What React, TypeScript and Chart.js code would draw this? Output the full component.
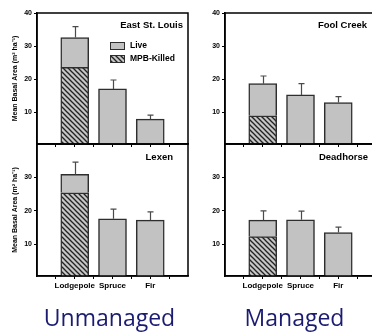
import React, { useEffect, useRef } from 'react';
import { Chart, registerables } from 'chart.js';

Chart.register(...registerables);

// ---------- data ----------
const categories = ['Lodgepole', 'Spruce', 'Fir'];
const categoryPositions = [1, 2, 3];
const xTickValues = [0.5, 1, 1.5, 2, 2.5, 3, 3.5];
const yTicksTop = [10, 20, 30, 40];
const yTicksBottom = [10, 20, 30];
const legendLabels = ['Live', 'MPB-Killed'];
const groupLabels = ['Unmanaged', 'Managed'];
const yAxisTitle = 'Mean Basal Area (m² ha⁻¹)';

const eastStLouisTotal = [32.6, 17.1, 8.0];
const eastStLouisKilled = [23.6, null, null];
const eastStLouisErrTop = [35.9, 19.8, 9.2];

const foolCreekTotal = [18.7, 15.3, 13.0];
const foolCreekKilled = [9.0, null, null];
const foolCreekErrTop = [21.0, 18.7, 14.8];

const lexenTotal = [30.9, 17.6, 17.2];
const lexenKilled = [25.4, null, null];
const lexenErrTop = [34.6, 20.5, 19.7];

const deadhorseTotal = [17.2, 17.3, 13.5];
const deadhorseKilled = [12.3, null, null];
const deadhorseErrTop = [20.0, 19.9, 15.1];

// ---------- layout / style ----------
const CW = 380;
const CH = 333;
const FONT = "'Liberation Sans', Arial, sans-serif";
const LIVE_COLOR = '#c2c2c2';
const BORDER_COLOR = '#2e2e2e';
const NAVY = '#1b1b72';

type Panel = {
  title: string;
  total: (number | null)[];
  killed: (number | null)[];
  err: (number | null)[];
  left: number;
  right: number;
  top: number;
  bottom: number;
  yTicks: number[];
  showX: boolean;
  showYTitle: boolean;
  legend: boolean;
  titleRight: number;
  titleY: number;
};

const panels: Panel[] = [
  { title: 'East St. Louis', total: eastStLouisTotal, killed: eastStLouisKilled, err: eastStLouisErrTop,
    left: 37, right: 188, top: 13, bottom: 144, yTicks: yTicksTop, showX: false, showYTitle: true, legend: true, titleRight: 183, titleY: 25 },
  { title: 'Fool Creek', total: foolCreekTotal, killed: foolCreekKilled, err: foolCreekErrTop,
    left: 225, right: 376, top: 13, bottom: 144, yTicks: yTicksTop, showX: false, showYTitle: false, legend: false, titleRight: 367, titleY: 25 },
  { title: 'Lexen', total: lexenTotal, killed: lexenKilled, err: lexenErrTop,
    left: 37, right: 188, top: 144, bottom: 276, yTicks: yTicksBottom, showX: true, showYTitle: true, legend: false, titleRight: 173, titleY: 157 },
  { title: 'Deadhorse', total: deadhorseTotal, killed: deadhorseKilled, err: deadhorseErrTop,
    left: 225, right: 376, top: 144, bottom: 276, yTicks: yTicksBottom, showX: true, showYTitle: false, legend: false, titleRight: 368, titleY: 157 },
];

function makeHatch(): CanvasPattern | string {
  const s = 5;
  const c = document.createElement('canvas');
  c.width = s;
  c.height = s;
  const g = c.getContext('2d');
  if (!g) return '#888';
  g.fillStyle = '#c6c6c6';
  g.fillRect(0, 0, s, s);
  g.strokeStyle = '#222';
  g.lineWidth = 1.3;
  for (const k of [-s, 0, s]) {
    g.beginPath();
    g.moveTo(k - 1, -1);
    g.lineTo(k + s + 1, s + 1);
    g.stroke();
  }
  const p = g.createPattern(c, 'repeat');
  return p || '#888';
}

function PanelChart({ panel }: { panel: Panel }) {
  const ref = useRef<HTMLCanvasElement | null>(null);
  useEffect(() => {
    const canvas = ref.current;
    if (!canvas) return;
    const hatch = makeHatch();
    const yAxisW = 30;
    const xAxisH = panel.showX ? 20 : 4;

    const killedData = categoryPositions.map((x, i) => ({ x, y: panel.killed[i] }));
    const liveData = categoryPositions.map((x, i) => ({
      x,
      y: (panel.total[i] as number) - ((panel.killed[i] as number) || 0),
    }));

    const deco = {
      id: 'panelDeco',
      afterDatasetsDraw(chart: any) {
        const { ctx, scales } = chart;
        const xs = scales.x;
        const ys = scales.y;
        ctx.save();
        ctx.strokeStyle = '#4a4a4a';
        ctx.lineWidth = 1.2;
        categoryPositions.forEach((pos, i) => {
          const e = panel.err[i];
          const t = panel.total[i];
          if (e == null || t == null) return;
          const px = Math.round(xs.getPixelForValue(pos)) + 0.5;
          const y0 = ys.getPixelForValue(t);
          const y1 = ys.getPixelForValue(e);
          ctx.beginPath();
          ctx.moveTo(px, y0);
          ctx.lineTo(px, y1);
          ctx.moveTo(px - 3, y1);
          ctx.lineTo(px + 3, y1);
          ctx.stroke();
        });
        ctx.restore();
      },
      afterDraw(chart: any) {
        const { ctx, chartArea } = chart;
        ctx.save();
        ctx.strokeStyle = '#000';
        ctx.lineWidth = 1.5;
        ctx.strokeRect(chartArea.left, chartArea.top, chartArea.right - chartArea.left, chartArea.bottom - chartArea.top);
        ctx.fillStyle = '#000';
        ctx.font = `bold 9.5px ${FONT}`;
        ctx.textAlign = 'right';
        ctx.textBaseline = 'middle';
        ctx.fillText(panel.title, panel.titleRight, panel.titleY);
        if (panel.legend) {
          const lx = chartArea.left + 73;
          const ly = chartArea.top + 29;
          const items = [
            { label: legendLabels[0], fill: LIVE_COLOR as any },
            { label: legendLabels[1], fill: hatch as any },
          ];
          ctx.font = `bold 8.5px ${FONT}`;
          ctx.textAlign = 'left';
          items.forEach((it, k) => {
            const yy = ly + k * 13;
            ctx.fillStyle = it.fill;
            ctx.fillRect(lx, yy, 15, 7);
            ctx.strokeStyle = BORDER_COLOR;
            ctx.lineWidth = 1;
            ctx.strokeRect(lx + 0.5, yy + 0.5, 14, 7);
            ctx.fillStyle = '#000';
            ctx.fillText(it.label, lx + 20, yy + 4);
          });
        }
        ctx.restore();
      },
    };

    const tickFont = { family: FONT, weight: 'bold' as const, size: 7 };
    const chart = new Chart(canvas, {
      type: 'bar',
      data: {
        datasets: [
          {
            label: legendLabels[1],
            data: killedData as any,
            backgroundColor: hatch as any,
            borderColor: BORDER_COLOR,
            borderWidth: 1.5,
            barThickness: 28,
          },
          {
            label: legendLabels[0],
            data: liveData as any,
            backgroundColor: LIVE_COLOR,
            borderColor: BORDER_COLOR,
            borderWidth: 1.5,
            barThickness: 28,
          },
        ],
      },
      options: {
        responsive: false,
        animation: false,
        devicePixelRatio: 1,
        events: [],
        layout: {
          padding: {
            left: panel.left - yAxisW,
            right: CW - panel.right,
            top: panel.top,
            bottom: CH - panel.bottom - xAxisH,
          },
        },
        plugins: {
          legend: { display: false },
          tooltip: { enabled: false },
          title: { display: false },
        },
        scales: {
          x: {
            type: 'linear',
            min: 0,
            max: 4,
            offset: false,
            stacked: true,
            afterBuildTicks: (s: any) => {
              s.ticks = xTickValues.map((v) => ({ value: v }));
            },
            afterFit: (s: any) => {
              s.height = xAxisH;
            },
            grid: { offset: false, drawOnChartArea: false, drawTicks: true, tickLength: 3, color: '#000', lineWidth: 1 },
            border: { display: true, color: '#000', width: 1.5 },
            ticks: {
              autoSkip: false,
              maxRotation: 0,
              padding: 2,
              color: '#000',
              font: { family: FONT, weight: 'bold', size: 8 },
              callback: (v: any) => {
                const i = categoryPositions.indexOf(Number(v));
                return panel.showX && i >= 0 ? categories[i] : '';
              },
            },
          },
          y: {
            type: 'linear',
            min: 0.5,
            max: 40,
            stacked: true,
            afterBuildTicks: (s: any) => {
              s.ticks = panel.yTicks.map((v) => ({ value: v }));
            },
            afterFit: (s: any) => {
              s.width = yAxisW;
            },
            grid: { drawOnChartArea: false, drawTicks: true, tickLength: 3, color: '#000', lineWidth: 1 },
            border: { display: true, color: '#000', width: 1.5 },
            ticks: { padding: 2, color: '#000', font: tickFont },
            title: {
              display: panel.showYTitle,
              text: yAxisTitle,
              color: '#000',
              font: { family: FONT, weight: 'bold', size: 7 },
              padding: { top: 4, bottom: 0 },
            },
          },
        },
      },
      plugins: [deco],
    });
    return () => chart.destroy();
  }, [panel]);

  return (
    <canvas
      ref={ref}
      width={CW}
      height={CH}
      style={{ position: 'absolute', left: 0, top: 0, width: CW, height: CH }}
    />
  );
}

export default function App() {
  const groupStyle = {
    position: 'absolute' as const,
    width: 160,
    top: 306,
    textAlign: 'center' as const,
    fontFamily: "'Open Sans', sans-serif",
    fontSize: 23,
    lineHeight: 1,
    color: NAVY,
    whiteSpace: 'nowrap' as const,
  };
  return (
    <div
      style={{
        position: 'fixed',
        left: 0,
        top: 0,
        width: 372,
        height: 333,
        overflow: 'hidden',
        background: '#fff',
      }}
    >
      {panels.map((p) => (
        <PanelChart key={p.title} panel={p} />
      ))}
      <div style={{ ...groupStyle, left: 29.5 }}>{groupLabels[0]}</div>
      <div style={{ ...groupStyle, left: 214.5 }}>{groupLabels[1]}</div>
    </div>
  );
}
